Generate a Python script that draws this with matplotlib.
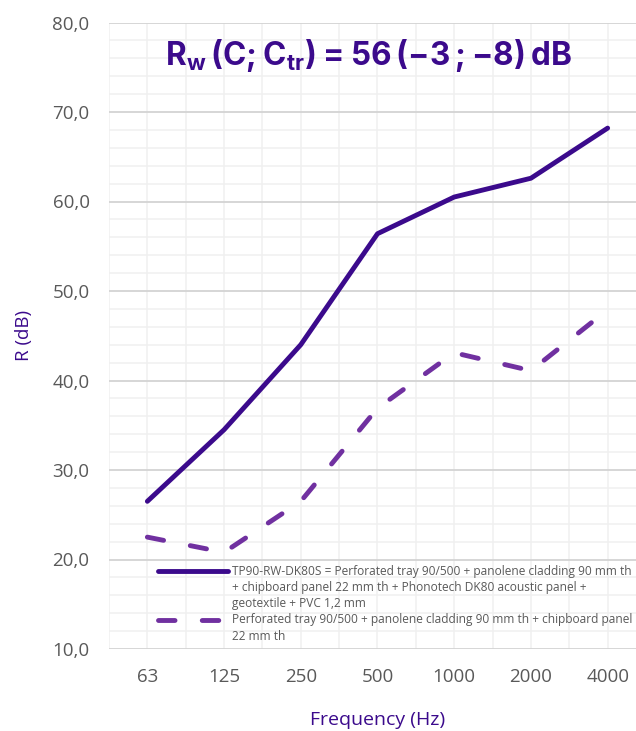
import matplotlib
matplotlib.use("Agg")
import matplotlib.pyplot as plt
from matplotlib.lines import Line2D
from matplotlib.ticker import MultipleLocator, FixedLocator, FuncFormatter

frequencies = ["63", "125", "250", "500", "1000", "2000", "4000"]
r_dk80s = [26.5, 34.5, 44.0, 56.4, 60.5, 62.6, 68.2]
r_base = [22.5, 20.8, 26.5, 36.9, 43.1, 41.1, 47.9]
label_dk80s = ["TP90-RW-DK80S = Perforated tray 90/500 + panolene cladding 90 mm th",
               "+ chipboard panel 22 mm th + Phonotech DK80 acoustic panel +",
               "geotextile + PVC 1,2 mm"]
label_base = ["Perforated tray 90/500 + panolene cladding 90 mm th + chipboard panel",
              "22 mm th"]

plt.rcParams['font.family'] = ['Open Sans', 'DejaVu Sans']
plt.rcParams['mathtext.fontset'] = 'custom'
plt.rcParams['mathtext.bf'] = 'Inter:bold'
plt.rcParams['mathtext.rm'] = 'Inter:bold'

dark = "#3b0a8c"
light = "#7030a0"
gray = "#595959"

W, H = 636, 731
fig = plt.figure(figsize=(W / 100, H / 100), dpi=100)
ax_l, ax_r, ax_t, ax_b = 109, 646, 22.5, 649
ax = fig.add_axes([ax_l / W, 1 - ax_b / H, (ax_r - ax_l) / W, (ax_b - ax_t) / H])

x = list(range(len(frequencies)))
solid_style = dict(color=dark, lw=3.5, solid_capstyle='round')
dash_style = dict(color=light, lw=3.5, ls=(0, (3.4, 5.6)), dash_capstyle='round')
ax.plot(x, r_dk80s, zorder=3, **solid_style)
ax.plot(x, r_base, zorder=3, **dash_style)

ax.set_xlim(-0.5, 6.5)
ax.set_ylim(10, 80)
ax.xaxis.set_major_locator(FixedLocator(x))
ax.set_xticklabels(frequencies)
ax.yaxis.set_major_locator(MultipleLocator(10))
ax.yaxis.set_minor_locator(MultipleLocator(2))
ax.yaxis.set_major_formatter(FuncFormatter(lambda v, p: f"{v:.1f}".replace(".", ",")))

ax.grid(False)
for yv in range(10, 81, 2):
    if yv % 10 == 0:
        ax.axhline(yv, color="#d6d6d6", lw=1.4, zorder=1)
    else:
        ax.axhline(yv, color="#f0f0f0", lw=1.1, zorder=0)
for xv in [i * 0.5 - 0.5 for i in range(15)]:
    ax.axvline(xv, color="#f0f0f0", lw=1.1, zorder=0)

for s in ax.spines.values():
    s.set_visible(False)
ax.tick_params(axis='both', which='both', length=0, colors=gray, labelsize=13.5)
ax.tick_params(axis='y', pad=14)
ax.tick_params(axis='x', pad=14)

ax.set_ylabel("R (dB)", color=dark, fontsize=13.5, labelpad=14)
ax.set_xlabel("Frequency (Hz)", color=dark, fontsize=14, labelpad=18)

fig.text(368 / W, 1 - 55 / H, r"$\mathbf{R_w\,(C;C_{tr}) = 56\,({-}3\,;{-}8)\,dB}$",
         color=dark, fontsize=22.7, ha='center', va='center')

# manual legend (handle aligned with first text line), in axes coordinates
def ay(py):
    return (ax_b - py) / (ax_b - ax_t)

def axx(px):
    return (px - ax_l) / (ax_r - ax_l)

pitch = 16.5
entries = [(label_dk80s, solid_style, 571), (label_base, dash_style, 620)]
for lines, style, y0 in entries:
    ax.add_line(Line2D([axx(158), axx(228)], [ay(y0), ay(y0)], transform=ax.transAxes,
                       zorder=4, **style))
    for i, line in enumerate(lines):
        ax.text(axx(232), ay(y0 + i * pitch), line, transform=ax.transAxes,
                fontsize=8.6, color=gray, ha='left', va='center', zorder=4)

fig.savefig("out.png", dpi=100)
